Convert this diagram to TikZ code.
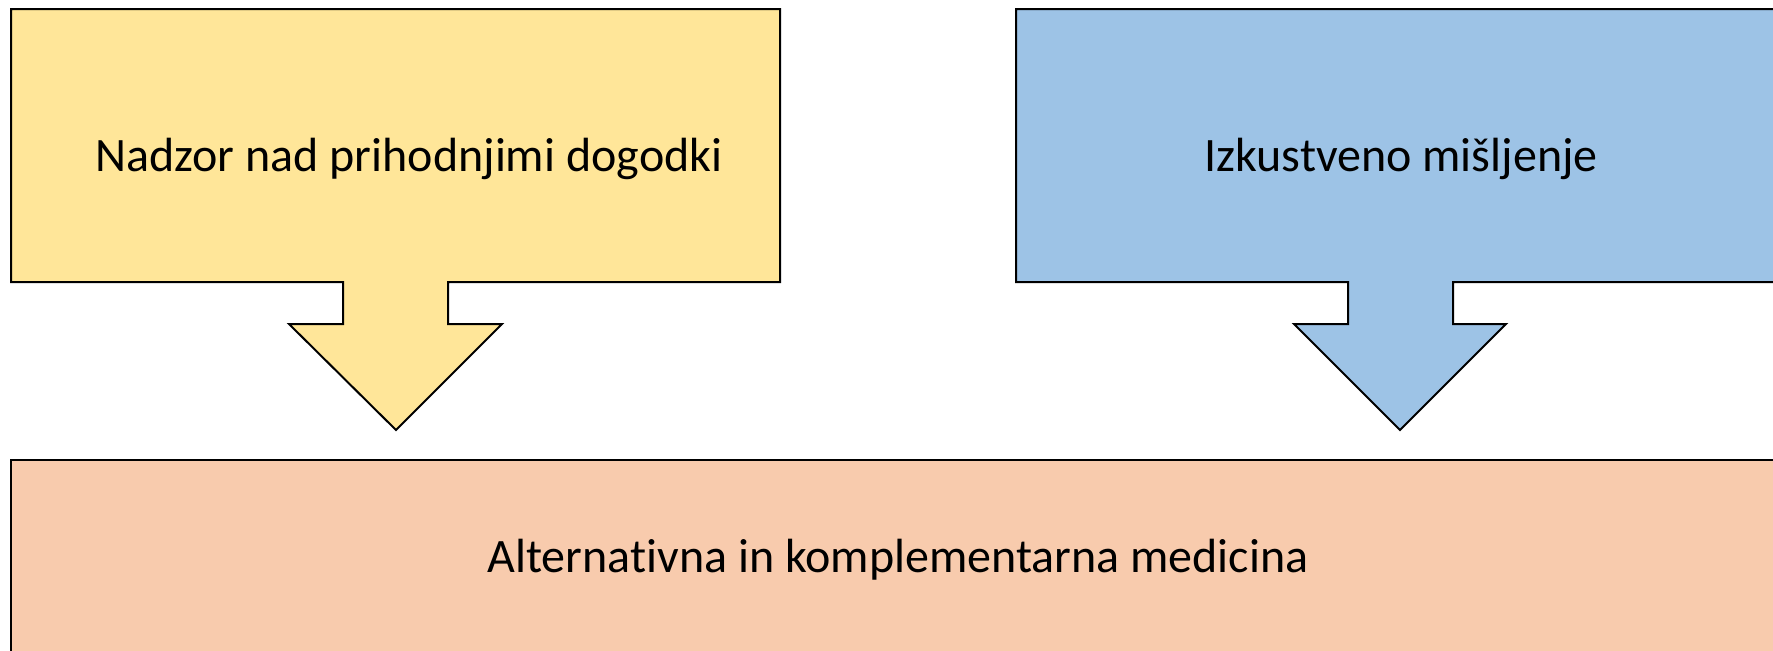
\documentclass[tikz,border=0pt]{standalone}
\usepackage{fontspec}
\setmainfont{Carlito}[Ligatures=NoCommon]
\usepackage{tikz}
\definecolor{zlata}{HTML}{FFE699}
\definecolor{modra}{HTML}{9DC3E6}
\definecolor{breskev}{HTML}{F8CBAD}

\begin{document}
\begin{tikzpicture}[x=0.5pt,y=-0.5pt,line width=1pt,font=\fontsize{24}{29}\selectfont]
	\useasboundingbox (0,0) rectangle (1773,650);
	\clip (0,0) rectangle (1773,650);
	\draw[fill=zlata] (11,9) -- (780,9) -- (780,282) -- (448,282) -- (448,324) -- (502,324) -- (396,430) -- (289,324) -- (343,324) -- (343,282) -- (11,282) -- cycle;
	\draw[fill=modra] (1016,9) -- (1785,9) -- (1785,282) -- (1453,282) -- (1453,324) -- (1506,324) -- (1400,430) -- (1294,324) -- (1348,324) -- (1348,282) -- (1016,282) -- cycle;
	\draw[fill=breskev] (11,460) rectangle (1785,670);
	\node[anchor=base] (nadzor) at (409,171) {Nadzor nad prihodnjimi dogodki};
	\node[anchor=base] (izkustvo) at (1401,171) {Izkustveno mišljenje};
	\node[anchor=base] (medicina) at (898,572) {Alternativna in komplementarna medicina};
\end{tikzpicture}
\end{document}
